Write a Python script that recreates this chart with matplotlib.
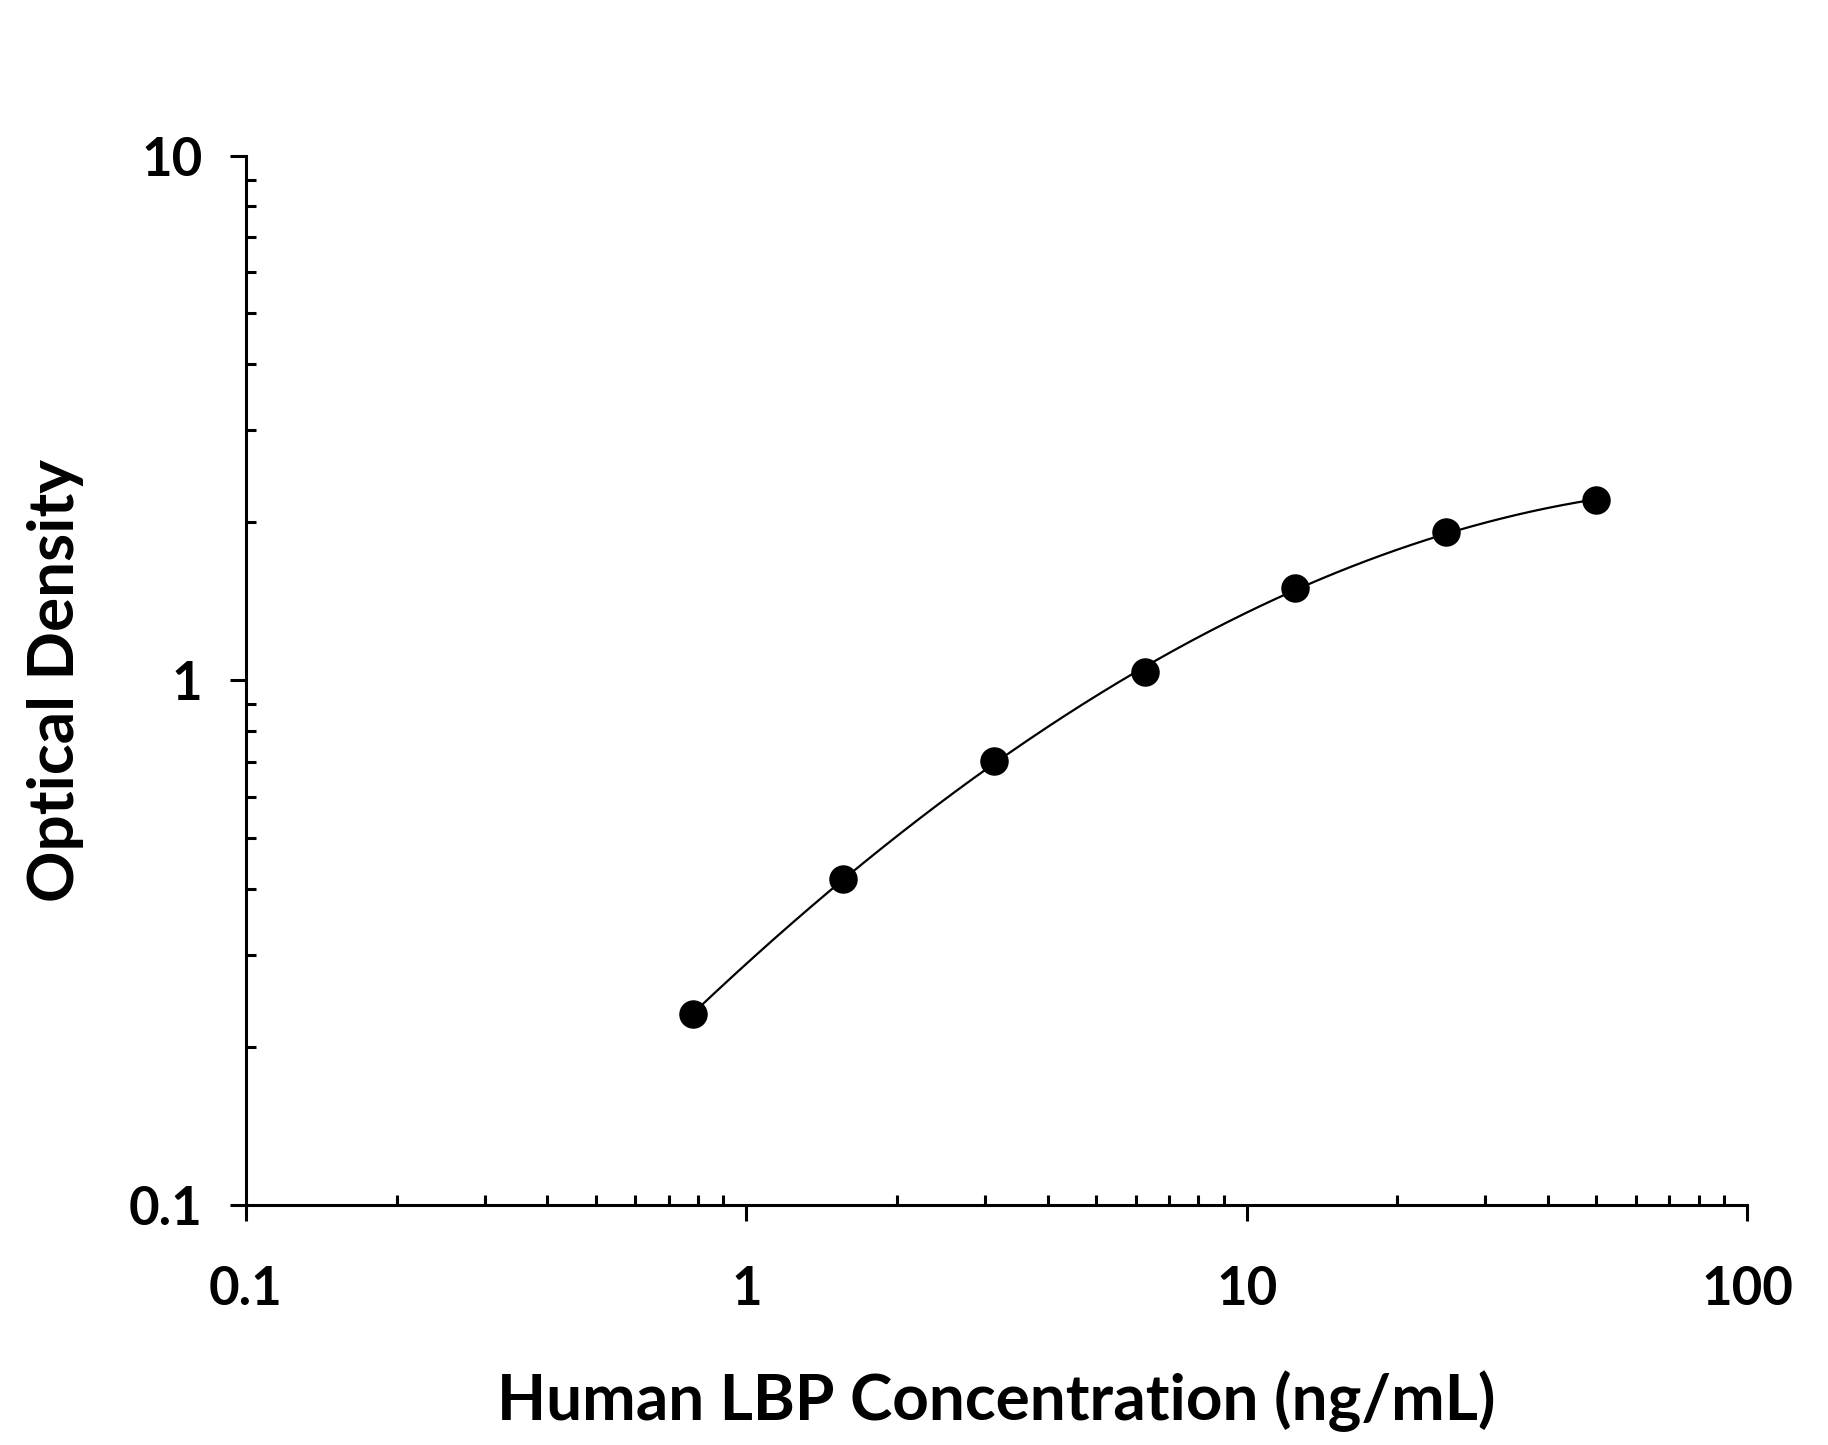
import numpy as np
import matplotlib
matplotlib.use('Agg')
import matplotlib.pyplot as plt
from matplotlib.ticker import LogLocator, NullFormatter, FixedLocator, FixedFormatter

# standard curve data
conc = [0.78125, 1.5625, 3.125, 6.25, 12.5, 25, 50]
od = [0.231, 0.418, 0.703, 1.035, 1.497, 1.914, 2.205]

x_ticks = [0.1, 1, 10, 100]
x_tick_labels = ['0.1', '1', '10', '100']
y_ticks = [0.1, 1, 10]
y_tick_labels = ['0.1', '1', '10']

plt.rcParams['font.family'] = ['Lato', 'DejaVu Sans']
plt.rcParams['font.weight'] = 'bold'

fig = plt.figure(figsize=(18.28, 14.45), dpi=100)
ax = fig.add_axes([246 / 1828, 1 - 1205 / 1445, (1747 - 246) / 1828, (1205 - 155.5) / 1445])

# fitted curve (cubic in log-log space)
lx = np.log10(conc)
ly = np.log10(od)
coef = np.polyfit(lx, ly, 3)
xs = np.linspace(lx[0], lx[-1], 300)
ax.plot(10 ** xs, 10 ** np.polyval(coef, xs), color='black', lw=1.6, zorder=2)
ax.plot(conc, od, 'o', color='black', markersize=19.5, zorder=3)

ax.set_xscale('log')
ax.set_yscale('log')
ax.set_xlim(0.1, 100)
ax.set_ylim(0.1, 10)

for s in ['top', 'right']:
    ax.spines[s].set_visible(False)
for s in ['left', 'bottom']:
    ax.spines[s].set_linewidth(2.2)

ax.xaxis.set_major_locator(FixedLocator(x_ticks))
ax.xaxis.set_major_formatter(FixedFormatter(x_tick_labels))
ax.yaxis.set_major_locator(FixedLocator(y_ticks))
ax.yaxis.set_major_formatter(FixedFormatter(y_tick_labels))
ax.xaxis.set_minor_locator(LogLocator(base=10, subs=np.arange(2, 10)))
ax.yaxis.set_minor_locator(LogLocator(base=10, subs=np.arange(2, 10)))
ax.xaxis.set_minor_formatter(NullFormatter())
ax.yaxis.set_minor_formatter(NullFormatter())

ax.tick_params(which='major', direction='out', length=11.5, width=2.2, labelsize=38)
ax.tick_params(which='minor', direction='in', length=7.2, width=2.2)
ax.tick_params(axis='x', which='major', pad=32)
ax.tick_params(axis='y', which='major', pad=20)

ax.set_xlabel('Human LBP Concentration (ng/mL)', fontsize=46, fontweight='bold', labelpad=40)
ax.set_ylabel('Optical Density', fontsize=46, fontweight='bold', labelpad=32)

fig.savefig('out.png', dpi=100)
